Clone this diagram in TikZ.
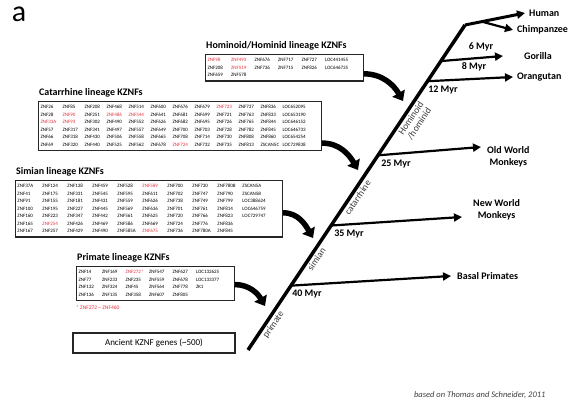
\documentclass[tikz,border=0pt]{standalone}
\usepackage{fontspec}
\setmainfont{Carlito}
\usetikzlibrary{arrows.meta,calc,positioning}

\definecolor{znfred}{RGB}{228,50,60}
\definecolor{labelgray}{RGB}{60,60,60}
\newcommand{\rz}[1]{\textcolor{znfred}{#1}}
\setlength{\tabcolsep}{0pt}

\tikzset{
  genebox/.style={draw=black!85, line width=1.1pt, inner sep=2pt,
    font=\fontsize{5}{7.5}\selectfont, anchor=north west},
  boxtitle/.style={font=\fontsize{10}{11}\selectfont\bfseries, inner sep=0pt, anchor=south west},
  species/.style={font=\fontsize{10}{12}\selectfont\bfseries, inner sep=1pt},
  myr/.style={font=\fontsize{10}{11}\selectfont\bfseries, inner sep=1pt},
  lineage/.style={font=\fontsize{9.5}{10}\selectfont, text=labelgray, sloped, below, inner sep=1.5pt},
  branch/.style={line width=2.2pt, -{Triangle[length=8pt,width=8pt]}},
  bigarrow/.style={line width=5.5pt, -{Triangle[length=9pt,width=14pt]}},
}

\begin{document}
\begin{tikzpicture}[x=1pt,y=-1pt]
  \fill[white] (0,0) rectangle (571,411);
  \useasboundingbox (0,0) rectangle (571,411);

  \node[font=\fontsize{30}{30}\selectfont] (panel) at (19,14) {a};

  % lineage gene tables
  \node[genebox] (hom) at (205,54) {\begin{tabular}{*{5}{p{23.5pt}}p{36pt}}
    \rz{ZNF98} & \rz{ZNF493} & ZNF676 & ZNF717 & ZNF727 & LOC441455\\
    ZNF208 & \rz{ZNF519} & ZNF736 & ZNF715 & ZNF826 & LOC646735\\
    ZNF659 & ZNF578 & & & &
  \end{tabular}};
  \node[boxtitle] (homtitle) at ([xshift=1pt,yshift=4pt]hom.north west) {Hominoid/Hominid lineage KZNFs};

  \node[genebox] (cat) at (38,101) {\begin{tabular}{*{11}{p{22pt}}p{37pt}}
    ZNF26 & ZNF85 & ZNF208 & ZNF468 & ZNF514 & ZNF600 & ZNF676 & ZNF679 & \rz{ZNF723} & ZNF737 & ZNF836 & LOC652095\\
    ZNF28 & \rz{ZNF90} & ZNF251 & \rz{ZNF486} & \rz{ZNF544} & ZNF641 & ZNF681 & ZNF699 & ZNF721 & ZNF763 & ZNF833 & LOC653190\\
    \rz{ZNF33A} & \rz{ZNF93} & ZNF302 & ZNF490 & ZNF552 & ZNF626 & ZNF682 & ZNF695 & ZNF726 & ZNF765 & ZNF844 & LOC646152\\
    ZNF57 & ZNF317 & ZNF341 & ZNF497 & ZNF557 & ZNF649 & ZNF700 & ZNF703 & ZNF728 & ZNF782 & ZNF845 & LOC646733\\
    ZNF66 & ZNF318 & ZNF430 & ZNF506 & ZNF558 & ZNF665 & ZNF708 & ZNF714 & ZNF730 & ZNF808 & ZNF860 & LOC654254\\
    ZNF69 & ZNF320 & ZNF440 & ZNF525 & ZNF562 & ZNF678 & \rz{ZNF724} & ZNF732 & ZNF735 & ZNF813 & ZSCAN5C & LOC729838
  \end{tabular}};
  \node[boxtitle] (cattitle) at ([xshift=1pt,yshift=4pt]cat.north west) {Catarrhine lineage KZNFs};

  \node[genebox, anchor=north east] (sim) at (283,180) {\begin{tabular}{*{9}{p{25pt}}p{38pt}}
    ZNF37A & ZNF124 & ZNF138 & ZNF459 & ZNF528 & \rz{ZNF589} & ZNF700 & ZNF730 & ZNF780B & ZSCAN5A\\
    ZNF41 & ZNF175 & ZNF331 & ZNF545 & ZNF595 & ZNF611 & ZNF702 & ZNF747 & ZNF790 & ZSCAN5B\\
    ZNF91 & ZNF155 & ZNF181 & ZNF431 & ZNF559 & ZNF626 & ZNF738 & ZNF749 & ZNF799 & LOC388624\\
    ZNF100 & ZNF195 & ZNF227 & ZNF445 & ZNF569 & ZNF636 & ZNF701 & ZNF761 & ZNF814 & LOC646759\\
    ZNF160 & ZNF223 & ZNF347 & ZNF442 & ZNF561 & ZNF625 & ZNF720 & ZNF766 & ZNF823 & LOC729747\\
    ZNF165 & \rz{ZNF254} & ZNF426 & ZNF469 & ZNF586 & ZNF669 & ZNF724 & ZNF776 & ZNF836 & \\
    ZNF167 & ZNF257 & ZNF429 & ZNF490 & ZNF585A & \rz{ZNF675} & ZNF736 & ZNF780A & ZNF845 &
  \end{tabular}};
  \node[boxtitle] (simtitle) at ([xshift=1pt,yshift=4pt]sim.north west) {Simian lineage KZNFs};

  \node[genebox] (pri) at (76,266) {\begin{tabular}{*{5}{p{23.5pt}}p{36pt}}
    ZNF14 & ZNF169 & \rz{ZNF272*} & ZNF547 & ZNF627 & LOC132625\\
    ZNF77 & ZNF233 & ZNF235 & ZNF559 & ZNF678 & LOC133377\\
    ZNF132 & ZNF324 & ZNF45 & ZNF564 & ZNF778 & ZK1\\
    ZNF136 & ZNF135 & ZNF358 & ZNF607 & ZNF805 &
  \end{tabular}};
  \node[boxtitle] (prititle) at ([xshift=1pt,yshift=4pt]pri.north west) {Primate lineage KZNFs};
  \node[font=\fontsize{5.5}{6}\selectfont, text=znfred, anchor=north west, inner sep=0pt]
    (prinote) at ([yshift=-4pt]pri.south west) {* ZNF272 \textasciitilde{} ZNF460};

  \node[draw=black!85, line width=1.1pt, minimum width=162pt, minimum height=20pt,
    font=\fontsize{9}{10}\selectfont] (anc) at (154,343) {Ancient KZNF genes (\textasciitilde500)};

  % tree
  \coordinate (bot) at (248,350);
  \coordinate (top) at (465,25);
  \draw[line width=3.5pt] (bot) --
    node[lineage, pos=0.09] {primate}
    node[lineage, pos=0.29] {simian}
    node[lineage, pos=0.48] {catarrhine}
    node[lineage, pos=0.725, align=center] {Hominoid\\/hominid} (top);

  \coordinate (bbas) at ($(bot)!0.198!(top)$);
  \coordinate (bnwm) at ($(bot)!0.383!(top)$);
  \coordinate (bowm) at ($(bot)!0.599!(top)$);
  \coordinate (bora) at ($(bot)!0.827!(top)$);
  \coordinate (bgor) at ($(bot)!0.889!(top)$);

  \coordinate (humtip) at (525,13);
  \coordinate (chitip) at (513,30);
  \coordinate (gortip) at (503,56);
  \coordinate (oratip) at (513,77);
  \coordinate (owmtip) at (481,147);
  \coordinate (nwmtip) at (462,217);
  \coordinate (bastip) at (451,276);
  \coordinate (bchi) at ($(top)!0.28!(humtip)$);

  \draw[branch, line width=3pt] (top) -- (humtip);
  \draw[branch] (bchi) -- (chitip);
  \draw[branch] (bgor) -- (gortip);
  \draw[branch] (bora) -- (oratip);
  \draw[branch] (bowm) -- (owmtip);
  \draw[branch] (bnwm) -- (nwmtip);
  \draw[branch] (bbas) -- (bastip);

  \node[species, right=3pt of humtip] (human) {Human};
  \node[species, right=3pt of chitip] (chimp) {Chimpanzee};
  \node[species, right=20pt of gortip] (gorilla) {Gorilla};
  \node[species, right=3pt of oratip] (orang) {Orangutan};
  \node[species, align=center, anchor=north west] (owm) at ([xshift=5pt,yshift=1.5pt]owmtip) {Old World\\Monkeys};
  \node[species, align=center, anchor=south west] (nwm) at ([xshift=10pt,yshift=-4pt]nwmtip) {New World\\Monkeys};
  \node[species, right=5pt of bastip] (basal) {Basal Primates};

  \node[myr] (m6) at (481,47) {6 Myr};
  \node[myr] (m8) at (474,67) {8 Myr};
  \node[myr] (m12) at (443,90) {12 Myr};
  \node[myr] (m25) at (396,164) {25 Myr};
  \node[myr] (m35) at (349,234) {35 Myr};
  \node[myr] (m40) at (307,294) {40 Myr};

  % arrows from the tables to the tree
  \coordinate (homtip) at (403,101);
  \coordinate (cattip) at (358,170);
  \coordinate (simtip) at (313,238);
  \coordinate (pritip) at (265,306);
  \draw[bigarrow] ([yshift=-6pt]hom.east) to[out=0,in=120] (homtip);
  \draw[bigarrow] ([yshift=8pt]cat.south east) to[out=0,in=120] (cattip);
  \draw[bigarrow] ([yshift=-4pt]sim.east) to[out=0,in=120] (simtip);
  \draw[bigarrow] ([yshift=-1pt]pri.east) to[out=0,in=120] (pritip);

  \node[font=\fontsize{8.5}{10}\selectfont\itshape, text=black!75, anchor=east] (cite)
    at (549,395) {based on Thomas and Schneider, 2011};
\end{tikzpicture}
\end{document}
